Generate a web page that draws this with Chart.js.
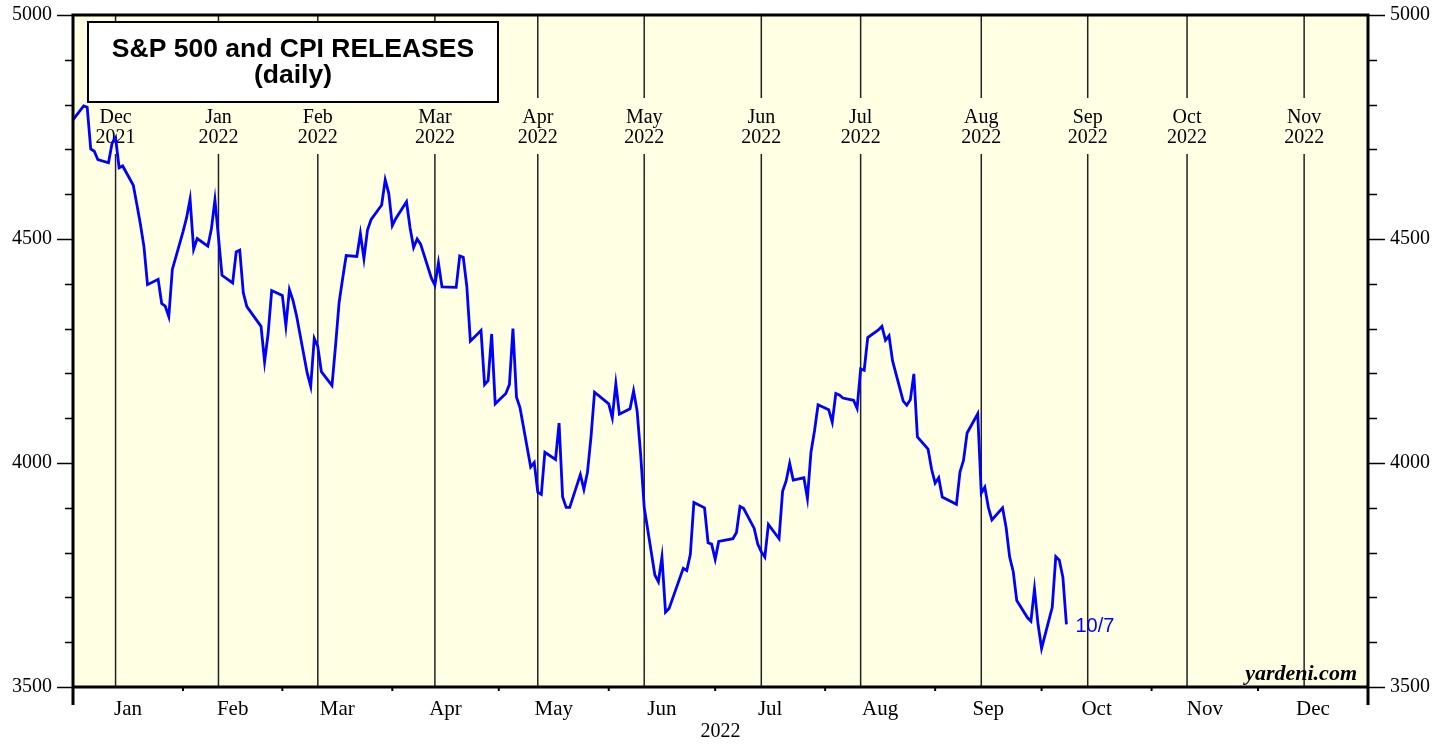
<!DOCTYPE html>
<html>
<head>
<meta charset="utf-8">
<script src="https://cdn.jsdelivr.net/npm/chart.js@4.4.1/dist/chart.umd.min.js"></script>
<style>
  html, body { margin: 0; padding: 0; background: #fff; }
</style>
</head>
<body>
<canvas id="spx" width="1450" height="744"></canvas>
<script>
// S&P 500 daily closes (last point 10/7)
const tradeDates = [
  '2021-12-31',
  '2022-01-03', '2022-01-04', '2022-01-05', '2022-01-06', '2022-01-07', '2022-01-10', '2022-01-11', '2022-01-12',
  '2022-01-13', '2022-01-14', '2022-01-17', '2022-01-18', '2022-01-19', '2022-01-20', '2022-01-21', '2022-01-24',
  '2022-01-25', '2022-01-26', '2022-01-27', '2022-01-28', '2022-01-31',
  '2022-02-01', '2022-02-02', '2022-02-03', '2022-02-04', '2022-02-07', '2022-02-08', '2022-02-09', '2022-02-10',
  '2022-02-11', '2022-02-14', '2022-02-15', '2022-02-16', '2022-02-17', '2022-02-18', '2022-02-22', '2022-02-23',
  '2022-02-24', '2022-02-25', '2022-02-28',
  '2022-03-01', '2022-03-02', '2022-03-03', '2022-03-04', '2022-03-07', '2022-03-08', '2022-03-09', '2022-03-10',
  '2022-03-11', '2022-03-14', '2022-03-15', '2022-03-16', '2022-03-17', '2022-03-18', '2022-03-21', '2022-03-22',
  '2022-03-23', '2022-03-24', '2022-03-25', '2022-03-28', '2022-03-29', '2022-03-30', '2022-03-31',
  '2022-04-01', '2022-04-04', '2022-04-05', '2022-04-06', '2022-04-07', '2022-04-08', '2022-04-11', '2022-04-12',
  '2022-04-13', '2022-04-14', '2022-04-18', '2022-04-19', '2022-04-20', '2022-04-21', '2022-04-22', '2022-04-25',
  '2022-04-26', '2022-04-27', '2022-04-28', '2022-04-29',
  '2022-05-02', '2022-05-03', '2022-05-04', '2022-05-05', '2022-05-06', '2022-05-09', '2022-05-10', '2022-05-11',
  '2022-05-12', '2022-05-13', '2022-05-16', '2022-05-17', '2022-05-18', '2022-05-19', '2022-05-20', '2022-05-23',
  '2022-05-24', '2022-05-25', '2022-05-26', '2022-05-27', '2022-05-31',
  '2022-06-01', '2022-06-02', '2022-06-03', '2022-06-06', '2022-06-07', '2022-06-08', '2022-06-09', '2022-06-10',
  '2022-06-13', '2022-06-14', '2022-06-15', '2022-06-16', '2022-06-17', '2022-06-21', '2022-06-22', '2022-06-23',
  '2022-06-24', '2022-06-27', '2022-06-28', '2022-06-29', '2022-06-30',
  '2022-07-01', '2022-07-05', '2022-07-06', '2022-07-07', '2022-07-08', '2022-07-11', '2022-07-12', '2022-07-13',
  '2022-07-14', '2022-07-15', '2022-07-18', '2022-07-19', '2022-07-20', '2022-07-21', '2022-07-22', '2022-07-25',
  '2022-07-26', '2022-07-27', '2022-07-28', '2022-07-29',
  '2022-08-01', '2022-08-02', '2022-08-03', '2022-08-04', '2022-08-05', '2022-08-08', '2022-08-09', '2022-08-10',
  '2022-08-11', '2022-08-12', '2022-08-15', '2022-08-16', '2022-08-17', '2022-08-18', '2022-08-19', '2022-08-22',
  '2022-08-23', '2022-08-24', '2022-08-25', '2022-08-26', '2022-08-29', '2022-08-30', '2022-08-31',
  '2022-09-01', '2022-09-02', '2022-09-06', '2022-09-07', '2022-09-08', '2022-09-09', '2022-09-12', '2022-09-13',
  '2022-09-14', '2022-09-15', '2022-09-16', '2022-09-19', '2022-09-20', '2022-09-21', '2022-09-22', '2022-09-23',
  '2022-09-26', '2022-09-27', '2022-09-28', '2022-09-29', '2022-09-30',
  '2022-10-03', '2022-10-04', '2022-10-05', '2022-10-06', '2022-10-07'
];
const spxClose = [
  4766,
  4797, 4794, 4701, 4696, 4677, 4670, 4713, 4726,
  4659, 4663, 4620, 4577, 4533, 4483, 4398, 4410,
  4356, 4350, 4327, 4432, 4516,
  4547, 4589, 4477, 4501, 4484, 4522, 4587, 4504,
  4419, 4402, 4471, 4475, 4380, 4349, 4305, 4226,
  4289, 4385, 4374,
  4306, 4387, 4363, 4329, 4201, 4171, 4278, 4260,
  4204, 4173, 4262, 4358, 4412, 4463, 4461, 4512,
  4456, 4520, 4543, 4576, 4632, 4602, 4530,
  4546, 4583, 4525, 4481, 4500, 4488, 4413, 4397,
  4447, 4393, 4392, 4462, 4459, 4394, 4272, 4296,
  4175, 4184, 4288, 4132,
  4155, 4175, 4300, 4147, 4123, 3991, 4001, 3935,
  3930, 4024, 4008, 4089, 3924, 3901, 3901, 3974,
  3941, 3979, 4058, 4158, 4132,
  4101, 4177, 4109, 4121, 4161, 4116, 4018, 3901,
  3750, 3735, 3790, 3667, 3675, 3765, 3760, 3796,
  3912, 3900, 3822, 3819, 3785,
  3825, 3831, 3845, 3903, 3899, 3854, 3819, 3802,
  3790, 3863, 3831, 3937, 3960, 3999, 3962, 3967,
  3921, 4024, 4072, 4130,
  4119, 4091, 4155, 4152, 4145, 4140, 4122, 4210,
  4207, 4280, 4297, 4305, 4274, 4284, 4228, 4138,
  4129, 4141, 4199, 4058, 4031, 3986, 3955,
  3967, 3924, 3908, 3980, 4006, 4067, 4110, 3933,
  3946, 3901, 3873, 3900, 3856, 3790, 3758, 3693,
  3655, 3647, 3719, 3640, 3586,
  3678, 3791, 3783, 3745, 3640
];

// CPI release days and the month each release covers
const cpiDates = ['2022-01-12', '2022-02-10', '2022-03-10', '2022-04-12', '2022-05-11', '2022-06-10',
                  '2022-07-13', '2022-08-10', '2022-09-13', '2022-10-13', '2022-11-10', '2022-12-13'];
const cpiLabels = ['Dec 2021', 'Jan 2022', 'Feb 2022', 'Mar 2022', 'Apr 2022', 'May 2022',
                   'Jun 2022', 'Jul 2022', 'Aug 2022', 'Sep 2022', 'Oct 2022', 'Nov 2022'];

const monthNames = ['Jan', 'Feb', 'Mar', 'Apr', 'May', 'Jun', 'Jul', 'Aug', 'Sep', 'Oct', 'Nov', 'Dec'];
const monthStarts = [0, 31, 59, 90, 120, 151, 181, 212, 243, 273, 304, 334, 365];
const yLabels = [3500, 4000, 4500, 5000];
const yMin = 3500, yMax = 5000, yStep = 100;

// day number in 2022 (Jan 1 = 1, Dec 31 2021 = 0)
function dayNum(s) {
  const [y, m, d] = s.split('-').map(Number);
  return (Date.UTC(y, m - 1, d) - Date.UTC(2022, 0, 0)) / 864e5;
}

const points = tradeDates.map((d, i) => ({ x: dayNum(d), y: spxClose[i] }));
const monthMids = monthNames.map((m, i) => (monthStarts[i] + monthStarts[i + 1]) / 2);

const serif = '"Liberation Serif", "Times New Roman", serif';
const sans = '"Liberation Sans", Arial, sans-serif';

// text drawn a little wider than the font, like the original
function wideText(ctx, text, x, y, sx) {
  ctx.save();
  ctx.translate(x, y);
  ctx.scale(sx, 1);
  ctx.fillText(text, 0, 0);
  ctx.restore();
}

const decor = {
  id: 'decor',
  beforeDraw(chart) {
    const { ctx, chartArea: a } = chart;
    ctx.save();
    ctx.fillStyle = '#ffffe3';
    ctx.fillRect(a.left, a.top, a.right - a.left, a.bottom - a.top);
    ctx.restore();
  },
  beforeDatasetsDraw(chart) {
    const { ctx, chartArea: a, scales: { x } } = chart;
    ctx.save();
    ctx.strokeStyle = '#222';
    ctx.lineWidth = 1.5;
    ctx.fillStyle = '#000';
    ctx.font = '20px ' + serif;
    ctx.textAlign = 'center';
    ctx.textBaseline = 'middle';
    cpiDates.forEach((d, i) => {
      const px = x.getPixelForValue(dayNum(d));
      ctx.beginPath();
      ctx.moveTo(px, a.top);
      ctx.lineTo(px, 98);
      ctx.moveTo(px, 154);
      ctx.lineTo(px, a.bottom);
      ctx.stroke();
      const [mon, yr] = cpiLabels[i].split(' ');
      ctx.fillText(mon, px, 118);
      ctx.fillText(yr, px, 138);
    });
    ctx.restore();
  },
  afterDatasetsDraw(chart) {
    const { ctx, chartArea: a, scales: { x, y } } = chart;
    ctx.save();

    // title box
    ctx.fillStyle = '#fff';
    ctx.fillRect(88, 22, 410, 80);
    ctx.strokeStyle = '#000';
    ctx.lineWidth = 2;
    ctx.strokeRect(88, 22, 410, 80);
    ctx.fillStyle = '#000';
    ctx.textAlign = 'center';
    ctx.textBaseline = 'alphabetic';
    ctx.font = 'bold 25px ' + sans;
    wideText(ctx, 'S&P 500 and CPI RELEASES', 293, 57, 1.06);
    wideText(ctx, '(daily)', 293, 83, 1.06);

    // y ticks, both sides
    ctx.lineWidth = 1.5;
    for (let v = yMin; v <= yMax; v += yStep) {
      const py = Math.round(y.getPixelForValue(v)) + 0.5;
      const major = v % 500 === 0;
      ctx.beginPath();
      ctx.moveTo(a.left - (major ? 16 : 8), py);
      ctx.lineTo(a.left, py);
      ctx.moveTo(a.right, py);
      ctx.lineTo(a.right + (major ? 17 : 9), py);
      ctx.stroke();
    }

    // month boundary ticks
    ctx.lineWidth = 2;
    monthStarts.forEach(m => {
      const px = x.getPixelForValue(m);
      ctx.beginPath();
      ctx.moveTo(px, a.bottom);
      ctx.lineTo(px, a.bottom + 4);
      ctx.stroke();
    });

    // frame
    ctx.lineWidth = 3;
    ctx.beginPath();
    ctx.moveTo(a.left, a.top);
    ctx.lineTo(a.right, a.top);
    ctx.moveTo(a.left, a.bottom);
    ctx.lineTo(a.right, a.bottom);
    ctx.moveTo(a.left, a.top - 1.5);
    ctx.lineTo(a.left, a.bottom + 18);
    ctx.moveTo(a.right, a.top - 1.5);
    ctx.lineTo(a.right, a.bottom + 18);
    ctx.stroke();

    // last value label
    const last = points[points.length - 1];
    ctx.fillStyle = '#0000ff';
    ctx.font = '20px ' + sans;
    ctx.textAlign = 'left';
    ctx.textBaseline = 'middle';
    ctx.fillText('10/7', x.getPixelForValue(last.x) + 9, y.getPixelForValue(last.y) + 2);

    // source
    ctx.fillStyle = '#000';
    ctx.font = 'italic bold 22px ' + serif;
    ctx.textAlign = 'right';
    ctx.textBaseline = 'alphabetic';
    ctx.fillText('yardeni.com', a.right - 11, a.bottom - 7);

    ctx.restore();
  }
};

const noPadY = s => { s.paddingTop = 0; s.paddingBottom = 0; };

new Chart(document.getElementById('spx'), {
  type: 'line',
  data: {
    datasets: [{
      data: points,
      borderColor: '#0000ff',
      borderWidth: 2.8,
      pointRadius: 0,
      tension: 0,
      fill: false
    }]
  },
  options: {
    responsive: false,
    animation: false,
    layout: { padding: { top: 15, left: 0, right: 0, bottom: 0 } },
    plugins: { legend: { display: false }, tooltip: { enabled: false } },
    scales: {
      x: {
        type: 'linear',
        min: 0,
        max: 365,
        grid: { display: false, drawTicks: false },
        border: { display: false },
        afterBuildTicks: s => { s.ticks = monthMids.map(v => ({ value: v })); },
        afterFit: s => { s.height = 57; s.paddingLeft = 0; s.paddingRight = 0; },
        ticks: {
          autoSkip: false,
          maxRotation: 0,
          padding: 10,
          color: '#000',
          font: { family: serif, size: 21 },
          callback: (v, i) => monthNames[i]
        },
        title: {
          display: true,
          text: '2022',
          color: '#000',
          font: { family: serif, size: 20 },
          padding: { top: 0, bottom: 0 }
        }
      },
      y: {
        position: 'left',
        min: yMin,
        max: yMax,
        grid: { display: false, drawTicks: false },
        border: { display: false },
        afterBuildTicks: s => { s.ticks = yLabels.map(v => ({ value: v })); },
        afterFit: s => { s.width = 73; noPadY(s); },
        ticks: { padding: 21, color: '#000', font: { family: serif, size: 20 }, callback: v => String(v) }
      },
      y2: {
        position: 'right',
        min: yMin,
        max: yMax,
        grid: { display: false, drawTicks: false },
        border: { display: false },
        afterBuildTicks: s => { s.ticks = yLabels.map(v => ({ value: v })); },
        afterFit: s => { s.width = 82; noPadY(s); },
        ticks: { padding: 22, color: '#000', font: { family: serif, size: 20 }, callback: v => String(v) }
      }
    }
  },
  plugins: [decor]
});
</script>
</body>
</html>
